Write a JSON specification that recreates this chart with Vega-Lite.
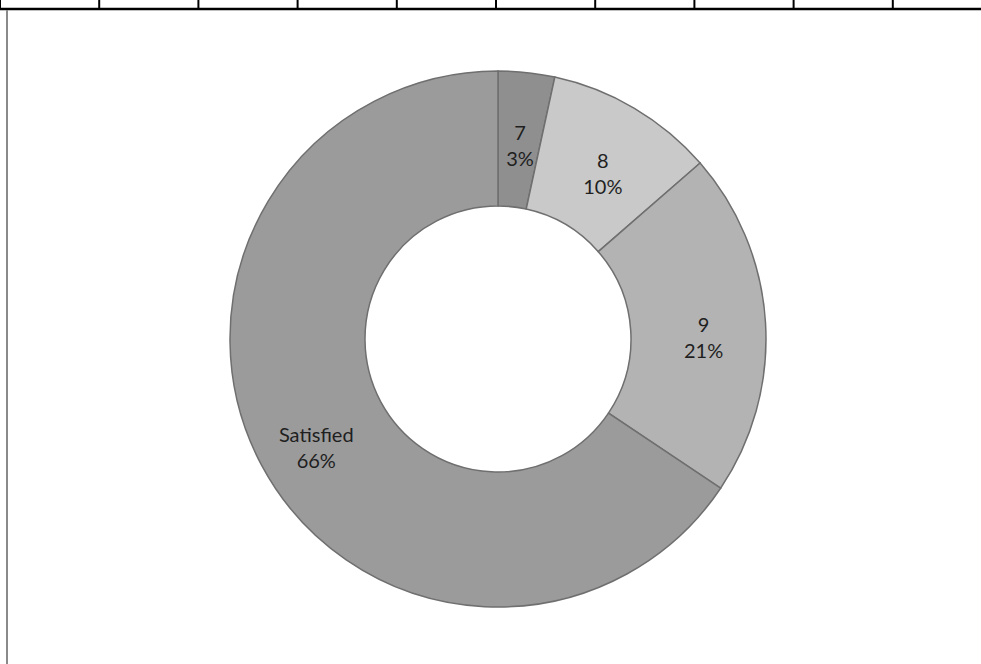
{
  "$schema": "https://vega.github.io/schema/vega-lite/v6.json",
  "width": 966,
  "height": 650,
  "autosize": {"type": "none"},
  "padding": {"left": 15, "top": 14, "right": 0, "bottom": 0},
  "background": "white",
  "config": {"view": {"stroke": null}},
  "datasets": {
    "slices": [
      {"category": "7", "value": 3.4, "label": "7\n3%", "order": 1},
      {"category": "8", "value": 10.2, "label": "8\n10%", "order": 2},
      {"category": "9", "value": 20.8, "label": "9\n21%", "order": 3},
      {"category": "Satisfied", "value": 65.6, "label": "Satisfied\n66%", "order": 4}
    ],
    "columns": [
      {"col": 0}, {"col": 1}, {"col": 2}, {"col": 3}, {"col": 4},
      {"col": 5}, {"col": 6}, {"col": 7}, {"col": 8}, {"col": 9}
    ]
  },
  "layer": [
    {
      "data": {"name": "columns"},
      "mark": {"type": "rule", "color": "#000000", "strokeWidth": 2},
      "encoding": {
        "x": {"field": "col", "type": "quantitative", "scale": {"domain": [0.1512, 9.8891], "nice": false, "zero": false}, "axis": null},
        "y": {"datum": 1.0077, "type": "quantitative", "scale": {"domain": [0, 1], "nice": false, "zero": false}, "axis": null},
        "y2": {"datum": 1.0215}
      }
    },
    {
      "data": {"values": [{"from": 0, "to": 9.95}]},
      "mark": {"type": "rule", "color": "#000000", "strokeWidth": 2.5},
      "encoding": {
        "x": {"field": "from", "type": "quantitative"},
        "x2": {"field": "to"},
        "y": {"datum": 1.0077, "type": "quantitative"}
      }
    },
    {
      "data": {"values": [{"edge": 0.0706}]},
      "mark": {"type": "rule", "color": "#8a8a8a", "strokeWidth": 2},
      "encoding": {
        "x": {"field": "edge", "type": "quantitative"},
        "y": {"datum": 1.006, "type": "quantitative"},
        "y2": {"datum": -0.05}
      }
    },
    {
      "data": {"name": "slices"},
      "mark": {"type": "arc", "innerRadius": 133, "outerRadius": 268, "stroke": "#6f6f6f", "strokeWidth": 1.5},
      "encoding": {
        "theta": {"field": "value", "type": "quantitative", "stack": true},
        "order": {"field": "order", "type": "quantitative"},
        "color": {"field": "category", "type": "nominal", "legend": null,
          "scale": {"domain": ["7", "8", "9", "Satisfied"], "range": ["#8f8f8f", "#c9c9c9", "#b3b3b3", "#9b9b9b"]}}
      }
    },
    {
      "data": {"name": "slices"},
      "mark": {"type": "text", "radius": 206, "font": "Lato", "fontSize": 20, "lineHeight": 26, "lineBreak": "\n", "color": "#1f1f1f", "align": "center", "baseline": "middle"},
      "encoding": {
        "theta": {"field": "value", "type": "quantitative", "stack": true},
        "order": {"field": "order", "type": "quantitative"},
        "text": {"field": "label", "type": "nominal"}
      }
    }
  ]
}
